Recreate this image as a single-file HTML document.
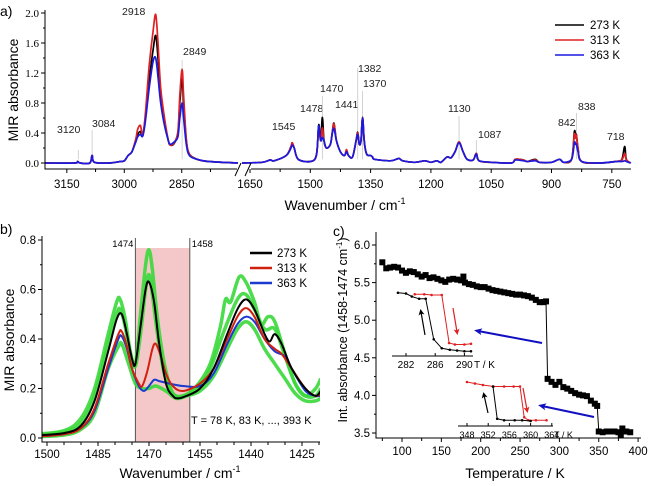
<!DOCTYPE html>
<html><head><meta charset="utf-8"><style>
html,body{margin:0;padding:0;background:#fff;}
svg{display:block;font-family:"Liberation Sans",Arial,sans-serif;}
</style></head><body>
<svg id="fig" width="650" height="486" viewBox="0 0 650 486" xmlns="http://www.w3.org/2000/svg">
<defs>
<marker id="ab" markerWidth="8" markerHeight="8" refX="4" refY="4" orient="auto" markerUnits="userSpaceOnUse"><path d="M8,4 L0,0.5 L2,4 L0,7.5 Z" fill="#1010c0"/></marker>
<marker id="ak" markerWidth="6" markerHeight="8" refX="3" refY="4" orient="auto" markerUnits="userSpaceOnUse"><path d="M6,4 L0,1 L1.5,4 L0,7 Z" fill="#000"/></marker>
<marker id="ar" markerWidth="6" markerHeight="8" refX="3" refY="4" orient="auto" markerUnits="userSpaceOnUse"><path d="M6,4 L0,1 L1.5,4 L0,7 Z" fill="#e02020"/></marker>
</defs>
<g id="pa"></g>
<g id="pb"></g>
<g id="pc"></g>
</svg>
<script>
// ---------- Panel a data ----------
const wnLeft = [3207,3130,3122,3115,3090,3084,3078,3040,3010,3000,2990,2980,2970,2965,2958,2952,2945,2935,2925,2918,2912,2905,2895,2885,2880,2870,2860,2855,2849,2845,2838,2830,2810,2780,2700];
const absLeft273 = [0,0,0.02,0,0,0.1,0.01,0,0.02,0.03,0.1,0.15,0.3,0.38,0.42,0.36,0.6,1.1,1.5,1.7,1.4,0.9,0.55,0.3,0.24,0.26,0.4,0.8,1.12,0.8,0.3,0.12,0.05,0.02,0];
const absLeft313 = [0,0,0.02,0,0,0.1,0.01,0,0.02,0.03,0.1,0.15,0.32,0.45,0.5,0.38,0.65,1.3,1.75,1.98,1.6,1.0,0.6,0.3,0.24,0.27,0.42,0.9,1.25,0.9,0.32,0.12,0.05,0.02,0];
const absLeft363 = [0,0,0.02,0,0,0.1,0.01,0,0.02,0.03,0.1,0.15,0.28,0.35,0.38,0.36,0.55,1.0,1.35,1.4,1.15,0.8,0.5,0.3,0.25,0.28,0.35,0.6,0.8,0.6,0.25,0.1,0.05,0.02,0];
const wnRight = [1670,1620,1600,1590,1560,1548,1545,1540,1530,1500,1485,1480,1478,1474,1470,1466,1460,1450,1445,1441,1435,1425,1415,1410,1405,1395,1386,1382,1378,1374,1370,1366,1360,1350,1345,1340,1300,1280,1270,1240,1215,1200,1185,1175,1160,1150,1140,1130,1120,1110,1095,1087,1080,1050,1000,990,970,960,940,930,900,880,870,850,843,840,838,834,825,780,740,725,718,714,703];
const absRight273 = [0,0.01,0.04,0.03,0.1,0.22,0.27,0.2,0.05,0.02,0.1,0.45,0.5,0.3,0.61,0.3,0.2,0.25,0.42,0.53,0.3,0.15,0.1,0.16,0.1,0.08,0.3,0.41,0.25,0.3,0.61,0.3,0.12,0.1,0.08,0.05,0.03,0.06,0.03,0.01,0.03,0.01,0.03,0.01,0.08,0.07,0.15,0.28,0.15,0.05,0.04,0.13,0.03,0.01,0,0.05,0.04,0.02,0.05,0.01,0.01,0.05,0.01,0.05,0.42,0.35,0.38,0.2,0.02,0,0.02,0.05,0.22,0.05,0];
const absRight313 = [0,0.01,0.04,0.03,0.1,0.22,0.27,0.2,0.05,0.02,0.1,0.43,0.46,0.3,0.47,0.3,0.2,0.25,0.42,0.52,0.3,0.15,0.1,0.18,0.1,0.08,0.3,0.4,0.25,0.3,0.6,0.3,0.12,0.1,0.08,0.05,0.03,0.06,0.03,0.01,0.03,0.01,0.03,0.01,0.08,0.07,0.15,0.28,0.15,0.05,0.04,0.13,0.03,0.01,0,0.05,0.04,0.02,0.04,0.01,0.01,0.05,0.01,0.05,0.38,0.33,0.37,0.2,0.02,0,0.02,0.04,0.13,0.04,0];
const absRight363 = [0,0.01,0.04,0.03,0.1,0.2,0.24,0.2,0.05,0.02,0.1,0.45,0.48,0.3,0.34,0.3,0.2,0.25,0.4,0.46,0.3,0.15,0.1,0.15,0.1,0.08,0.3,0.38,0.25,0.3,0.6,0.3,0.12,0.1,0.08,0.05,0.03,0.06,0.03,0.01,0.03,0.01,0.03,0.01,0.08,0.07,0.15,0.27,0.15,0.05,0.04,0.12,0.03,0.01,0,0.04,0.03,0.02,0.03,0.01,0.01,0.05,0.01,0.05,0.27,0.25,0.25,0.15,0.02,0,0.02,0.02,0.03,0.02,0];
const aYTicks = [0,0.4,0.8,1.2,1.6,2.0];
const aXTicksLeft = [3150,3000,2850];
const aXTicksRight = [1650,1500,1350,1200,1050,900,750];
const aPeakLabels = [[3120,"3120",57,133,150],[3084,"3084",92,127,130],[2918,"2918",122,15,null],[2849,"2849",183,55,60],[1545,"1545",272,130,null],[1478,"1478",300,112,null],[1470,"1470",320,92,96],[1441,"1441",335,108,null],[1382,"1382",358,72,68],[1370,"1370",363,87,91],[1130,"1130",448,112,116],[1087,"1087",478,138,140],[842,"842",558,126,null],[838,"838",578,110,113],[718,"718",607,140,null]];

// ---------- Panel b data ----------
const bWn = [1504,1495,1490,1486,1482,1479.5,1478,1476.5,1475,1474,1472.5,1471,1470,1468.5,1467,1465,1463,1461.5,1459,1455,1451,1447,1444,1441.5,1439,1436,1434.5,1433,1431,1428,1424,1421,1419.5];
const b273 = [0.01,0.02,0.05,0.15,0.35,0.48,0.5,0.42,0.32,0.3,0.45,0.6,0.63,0.55,0.38,0.22,0.17,0.16,0.17,0.2,0.28,0.42,0.52,0.56,0.52,0.42,0.39,0.42,0.38,0.28,0.2,0.17,0.19];
const bWn2 = [1504,1495,1490,1486,1482,1479,1478,1476.5,1475,1473,1472,1470.5,1469,1468,1466.5,1465,1463,1460,1455,1451,1447,1444,1441.5,1439,1436,1433,1431,1428,1424,1421,1419.5];
const b313 = [0.005,0.015,0.04,0.12,0.3,0.42,0.43,0.37,0.28,0.22,0.21,0.27,0.36,0.38,0.33,0.26,0.21,0.19,0.22,0.28,0.4,0.49,0.525,0.49,0.4,0.36,0.34,0.28,0.2,0.17,0.18];
const bWn3 = [1504,1495,1490,1486,1482,1479,1478,1476.5,1475,1473,1471.5,1470,1468.5,1467,1464,1460,1455,1451,1447,1444,1441.5,1439,1436,1433,1430,1428,1424,1421,1419.5];
const b363 = [0.005,0.015,0.04,0.11,0.28,0.4,0.41,0.36,0.28,0.21,0.19,0.21,0.235,0.23,0.22,0.21,0.21,0.26,0.38,0.46,0.49,0.47,0.4,0.35,0.33,0.28,0.19,0.17,0.17];
const bWnHi = [1504,1495,1490,1486,1482,1479.5,1478.5,1477,1475.5,1474,1472.5,1471,1470,1469,1467.5,1465.5,1463,1460,1456,1452,1449,1447.5,1446,1443.5,1441.5,1439,1437,1435,1433,1430,1427,1424,1421,1419.5];
const bGreenHi = [0.015,0.03,0.08,0.2,0.42,0.55,0.56,0.48,0.35,0.3,0.5,0.7,0.76,0.68,0.48,0.3,0.18,0.17,0.21,0.3,0.45,0.56,0.55,0.65,0.63,0.55,0.46,0.49,0.47,0.34,0.22,0.17,0.2,0.24];
const bWnMid = [1504,1495,1490,1486,1482,1479.5,1478.5,1477,1475.5,1474,1472.5,1471,1470,1469,1467.5,1465.5,1463,1460,1456,1452,1448,1444,1441.5,1439,1436,1433,1430,1427,1424,1421,1419.5];
const bGreenMid = [0.01,0.025,0.06,0.17,0.38,0.5,0.52,0.45,0.33,0.29,0.42,0.6,0.66,0.58,0.42,0.26,0.18,0.17,0.2,0.28,0.43,0.56,0.58,0.52,0.44,0.44,0.33,0.22,0.17,0.17,0.2];
const bWnLo = [1504,1495,1490,1486,1482,1479,1478,1476,1474,1472,1470,1468,1465,1462,1459,1455,1451,1447,1444,1441.5,1439,1436,1433,1430,1427,1424,1421,1419.5];
const bGreenLo = [0.005,0.012,0.035,0.1,0.28,0.37,0.38,0.3,0.22,0.2,0.2,0.21,0.19,0.16,0.17,0.19,0.25,0.36,0.44,0.47,0.44,0.36,0.3,0.24,0.18,0.15,0.15,0.16];
const bYTicks = [0,0.2,0.4,0.6,0.8];
const bXTicks = [1500,1485,1470,1455,1440,1425];
const bRegion = [1474,1458];

// ---------- Panel c data ----------
const cTemp = [75,80,85,90,95,100,105,110,115,120,125,130,135,140,145,150,155,160,165,170,175,178,180,185,190,195,200,205,210,215,220,225,230,235,240,245,250,255,260,265,270,275,280,283,285,290,295,300,305,310,315,320,325,330,335,340,345,348,350,355,360,365,370,375,378,380,385,390];
const cAbs = [5.77,5.69,5.70,5.71,5.70,5.66,5.63,5.65,5.64,5.61,5.58,5.60,5.56,5.57,5.55,5.53,5.51,5.54,5.55,5.54,5.53,5.58,5.50,5.48,5.47,5.45,5.44,5.44,5.42,5.40,5.39,5.38,5.37,5.36,5.35,5.34,5.34,5.33,5.32,5.30,5.27,5.24,5.24,5.25,4.22,4.18,4.14,4.18,4.11,4.09,4.06,4.03,4.01,4.00,3.99,3.93,3.89,3.86,3.52,3.51,3.52,3.52,3.52,3.51,3.48,3.56,3.52,3.51];
const cXTicks = [100,150,200,250,300,350,400];
const cYTicks = [3.5,4.0,4.5,5.0,5.5,6.0];
const in1BlackT = [280.9,282,282.8,283.8,284.7,285.8,286.9,288,289,290,290.9];
const in1BlackV = [5.29,5.28,5.24,5.21,5.21,4.67,4.55,4.53,4.52,4.51,4.51];
const in1RedT = [283.2,284.5,285.5,286.9,287.9,288.7,290,290.9];
const in1RedV = [5.27,5.27,5.26,5.26,4.62,4.60,4.60,4.61];
const in1Ticks = [282,286,290];
const in2BlackT = [352.9,353.7,355,357,358.4,360];
const in2BlackV = [4.11,3.68,3.66,3.66,3.66,3.65];
const in2RedT = [348,349.5,351,353,355,356.8,358,358.8,359.6,361,363];
const in2RedV = [4.17,4.15,4.13,4.11,4.11,4.11,4.11,3.70,3.66,3.66,3.66];
const in2Ticks = [348,352,356,360,364];

const NS = "http://www.w3.org/2000/svg";
function mk(parent, tag, attrs, text) {
  const e = document.createElementNS(NS, tag);
  for (const k in attrs) e.setAttribute(k, attrs[k]);
  if (text !== undefined) e.textContent = text;
  parent.appendChild(e);
  return e;
}
function smooth(pts) {
  let d = "M" + pts[0][0].toFixed(1) + "," + pts[0][1].toFixed(1);
  for (let i = 0; i < pts.length - 1; i++) {
    const p0 = pts[Math.max(0, i - 1)], p1 = pts[i], p2 = pts[i + 1], p3 = pts[Math.min(pts.length - 1, i + 2)];
    const c1x = p1[0] + (p2[0] - p0[0]) / 6, c1y = p1[1] + (p2[1] - p0[1]) / 6;
    const c2x = p2[0] - (p3[0] - p1[0]) / 6, c2y = p2[1] - (p3[1] - p1[1]) / 6;
    d += "C" + c1x.toFixed(1) + "," + c1y.toFixed(1) + " " + c2x.toFixed(1) + "," + c2y.toFixed(1) + " " + p2[0].toFixed(1) + "," + p2[1].toFixed(1);
  }
  return d;
}

// ===== Panel a =====
const pa = document.getElementById("pa");
const xL = v => Math.min(238, 45 + (3207 - v) * 0.383);
const xR = v => Math.max(242, 250 + (1650 - v) * 0.402);
const yA = v => 163 - v * 75;
let t;
t = mk(pa, "text", {x: 0, y: 16, "font-size": 14}, "a)");


t = mk(pa, "text", {x: 18, y: 90, "font-size": 14, "text-anchor": "middle", transform: "rotate(-90 18 90)"}, "MIR absorbance");


aPeakLabels.forEach(p => {
  const px = p[0] > 2000 ? xL(p[0]) : xR(p[0]);
  if (p[4] !== null) {
    const ln = mk(pa, "line", {x1: px, x2: px, y1: p[4], y2: yA(0.05), stroke: "#c8c8c8", "stroke-width": 0.8});
    
    
  }
  const tx = mk(pa, "text", {x: p[2], y: p[3], "font-size": 10.5, fill: "#222"}, p[1]);
  
  
});
const aSeries = [["#000", absLeft273, absRight273, "273"], ["#e02020", absLeft313, absRight313, "313"], ["#1a1ae0", absLeft363, absRight363, "363"]];
aSeries.forEach(s => {
  const p1 = mk(pa, "path", {d: smooth(wnLeft.map((w, i) => [xL(w), yA(s[1][i])])), fill: "none", stroke: s[0], "stroke-width": 1.7});
  
  
  const p2 = mk(pa, "path", {d: smooth(wnRight.map((w, i) => [xR(w), yA(s[2][i])])), fill: "none", stroke: s[0], "stroke-width": 1.7});
  
  
});
let ax = mk(pa, "path", {d: "M45,10 V169 H237 M251,169 H631", fill: "none", stroke: "#000", "stroke-width": 1});


let br = mk(pa, "path", {d: "M235,176 L241,163 M245,176 L251,163", stroke: "#000", "stroke-width": 1, fill: "none"});


aYTicks.forEach(v => {
  const y = yA(v);
  const tk = mk(pa, "line", {x1: 41, x2: 45, y1: y, y2: y, stroke: "#000"});
  
  
  const mn = mk(pa, "line", {x1: 43, x2: 45, y1: yA(v + 0.2), y2: yA(v + 0.2), stroke: "#000"});
  
  
  const lb = mk(pa, "text", {x: 39, y: y + 4, "font-size": 11, "text-anchor": "end", "font-family": "Liberation Serif, serif"}, v.toFixed(1));
  
  
});
aXTicksLeft.forEach(v => {
  const x = xL(v);
  const tk = mk(pa, "line", {x1: x, x2: x, y1: 169, y2: 173, stroke: "#000"});
  
  
  const mn = mk(pa, "line", {x1: xL(v - 75), x2: xL(v - 75), y1: 169, y2: 172, stroke: "#000"});
  
  
  const lb = mk(pa, "text", {x: x, y: 188, "font-size": 11.5, "text-anchor": "middle"}, String(v));
  
  
});
aXTicksRight.forEach(v => {
  const x = xR(v);
  const tk = mk(pa, "line", {x1: x, x2: x, y1: 169, y2: 173, stroke: "#000"});
  
  
  if (v > 750) {
    const mn = mk(pa, "line", {x1: xR(v - 75), x2: xR(v - 75), y1: 169, y2: 172, stroke: "#000"});
    
    
  }
  const lb = mk(pa, "text", {x: x, y: 188, "font-size": 11.5, "text-anchor": "middle"}, String(v));
  
  
});
t = mk(pa, "text", {x: 345, y: 210, "font-size": 14, "text-anchor": "middle"});


t.innerHTML = 'Wavenumber / cm<tspan dy="-6" font-size="9">-1</tspan>';
aSeries.forEach((s, i) => {
  const y = 25 + i * 15;
  const l = mk(pa, "line", {x1: 555, x2: 584, y1: y, y2: y, stroke: s[0], "stroke-width": 1.5});
  
  
  const lt = mk(pa, "text", {x: 590, y: y + 4, "font-size": 11.5}, s[3] + " K");
  
  
});

// ===== Panel b =====
const pb = document.getElementById("pb");
const xB = v => 149 + (1470 - v) * 3.4;
const yB = v => 438 - v * 247.5;
let clip = mk(pb, "clipPath", {id: "cb"});
mk(clip, "rect", {x: 42, y: 225, width: 278, height: 217});
const reg = mk(pb, "rect", {x: xB(bRegion[0]), y: 248, width: xB(bRegion[1]) - xB(bRegion[0]), height: 442 - 248, fill: "#f4c8c8"});


bRegion.forEach(v => {
  const l = mk(pb, "line", {x1: xB(v), x2: xB(v), y1: 238, y2: 442, stroke: "#555", "stroke-width": 1});
  
  
  const lb = mk(pb, "text", {x: v === bRegion[0] ? xB(v) - 2 : xB(v) + 2, y: 247, "font-size": 9.5, "text-anchor": v === bRegion[0] ? "end" : "start"}, String(v));
  
  
});
const gg = mk(pb, "g", {"clip-path": "url(#cb)"});
[[bWnHi, bGreenHi, "upper"], [bWnMid, bGreenMid, "middle"], [bWnLo, bGreenLo, "lower"]].forEach(s => {
  const g = mk(gg, "path", {d: smooth(s[0].map((w, i) => [xB(w), yB(s[1][i])])), fill: "none", stroke: "#3ad83a", "stroke-width": 3.5, opacity: 0.9});
  
  
});
const bSeries = [["#000", bWn, b273, "273"], ["#d02010", bWn2, b313, "313"], ["#1a3ad0", bWn3, b363, "363"]];
bSeries.slice().reverse().forEach(s => {
  const p = mk(gg, "path", {d: smooth(s[1].map((w, i) => [xB(w), yB(s[2][i])])), fill: "none", stroke: s[0], "stroke-width": 2});
  
  
});
ax = mk(pb, "path", {d: "M42,236 V442 H320", fill: "none", stroke: "#000", "stroke-width": 1});


bYTicks.forEach(v => {
  const y = yB(v);
  const tk = mk(pb, "line", {x1: 38, x2: 42, y1: y, y2: y, stroke: "#000"});
  
  
  if (v < 0.8) {
    const mn = mk(pb, "line", {x1: 40, x2: 42, y1: yB(v + 0.1), y2: yB(v + 0.1), stroke: "#000"});
    
    
  }
  const lb = mk(pb, "text", {x: 36, y: y + 4, "font-size": 11.5, "text-anchor": "end"}, v.toFixed(1));
  
  
});
bXTicks.forEach(v => {
  const x = xB(v);
  const tk = mk(pb, "line", {x1: x, x2: x, y1: 442, y2: 446, stroke: "#000"});
  
  
  [5, 10].forEach(o => {
    const mx = xB(v - o);
    if (mx < 320) {
      const mn = mk(pb, "line", {x1: mx, x2: mx, y1: 442, y2: 445, stroke: "#000"});
      
      
    }
  });
  const lb = mk(pb, "text", {x: x, y: 458, "font-size": 11.5, "text-anchor": "middle"}, String(v));
  
  
});
t = mk(pb, "text", {x: 0, y: 234, "font-size": 14}, "b)");


t = mk(pb, "text", {x: 14, y: 340, "font-size": 14, "text-anchor": "middle", transform: "rotate(-90 14 340)"}, "MIR absorbance");


t = mk(pb, "text", {x: 180, y: 478, "font-size": 14, "text-anchor": "middle"});


t.innerHTML = 'Wavenumber / cm<tspan dy="-6" font-size="9">-1</tspan>';
bSeries.forEach((s, i) => {
  const y = 253 + i * 15;
  const l = mk(pb, "line", {x1: 250, x2: 272, y1: y, y2: y, stroke: s[0], "stroke-width": 2.5});
  
  
  const lt = mk(pb, "text", {x: 277, y: y + 4, "font-size": 11.5}, s[3] + " K");
  
  
});
t = mk(pb, "text", {x: 191, y: 424, "font-size": 11}, "T = 78 K, 83 K, ..., 393 K");



// ===== Panel c =====
const pc = document.getElementById("pc");
const xC = v => 402 + (v - 100) * 0.787;
const yC = v => 245 + (6.0 - v) * 75.2;
const cl = mk(pc, "path", {d: "M" + cTemp.map((T, i) => xC(T).toFixed(1) + "," + yC(cAbs[i]).toFixed(1)).join(" L"), fill: "none", stroke: "#000", "stroke-width": 1});


cTemp.forEach((T, i) => {
  const m = mk(pc, "rect", {x: xC(T) - 3, y: yC(cAbs[i]) - 3, width: 6, height: 6, fill: "#000"});
  
  
});
ax = mk(pc, "path", {d: "M376,232 V438 H641", fill: "none", stroke: "#000", "stroke-width": 1});


cXTicks.forEach(v => {
  const x = xC(v);
  const tk = mk(pc, "line", {x1: x, x2: x, y1: 438, y2: 442, stroke: "#000"});
  
  
  const mx = xC(v - 25);
  const mn = mk(pc, "line", {x1: mx, x2: mx, y1: 438, y2: 441, stroke: "#000"});
  
  
  const lb = mk(pc, "text", {x: x, y: 455, "font-size": 11.5, "text-anchor": "middle"}, String(v));
  
  
});
cYTicks.forEach(v => {
  const y = yC(v);
  const tk = mk(pc, "line", {x1: 372, x2: 376, y1: y, y2: y, stroke: "#000"});
  
  
  if (v < 6) {
    const mn = mk(pc, "line", {x1: 374, x2: 376, y1: yC(v + 0.25), y2: yC(v + 0.25), stroke: "#000"});
    
    
  }
  const lb = mk(pc, "text", {x: 370, y: y + 4, "font-size": 11.5, "text-anchor": "end"}, v.toFixed(1));
  
  
});
t = mk(pc, "text", {x: 333, y: 236, "font-size": 14}, "c)");


t = mk(pc, "text", {x: 347, y: 330, "font-size": 12.5, "text-anchor": "middle", transform: "rotate(-90 347 330)"});


t.innerHTML = 'Int. absorbance (1458-1474 cm<tspan dy="-5" font-size="8">-1</tspan><tspan dy="5">)</tspan>';
t = mk(pc, "text", {x: 515, y: 478, "font-size": 14, "text-anchor": "middle"}, "Temperature / K");



function inset(name, xs, ys, axY, x0, x1, ticks, bT, bV, rT, rV, fs) {
  const g = mk(pc, "g", {});
  
  
  const a = mk(g, "line", {x1: x0, x2: x1, y1: axY, y2: axY, stroke: "#000"});
  
  
  ticks.forEach(v => {
    const tk = mk(g, "line", {x1: xs(v), x2: xs(v), y1: axY, y2: axY - 3, stroke: "#000"});
    
    
    const lb = mk(g, "text", {x: xs(v), y: axY + 12, "font-size": fs, "text-anchor": "middle"}, String(v));
    
    
  });
  const u = mk(g, "text", {x: x1 + 1, y: axY + 12, "font-size": fs}, "T / K");
  
  
  [[rT, rV, "#e02020", "red"], [bT, bV, "#000", "black"]].forEach(s => {
    const p = mk(g, "path", {d: "M" + s[0].map((T, i) => xs(T).toFixed(1) + "," + ys(s[1][i]).toFixed(1)).join(" L"), fill: "none", stroke: s[2], "stroke-width": 1});
    
    
    s[0].forEach((T, i) => {
      const c = mk(g, "circle", {cx: xs(T), cy: ys(s[1][i]), r: 1.3, fill: s[2]});
      
      
    });
  });
}
inset("inset-280k", T => 406 + (T - 282) * 7.3, v => 292 + (5.30 - v) * 75, 356, 392, 473, in1Ticks, in1BlackT, in1BlackV, in1RedT, in1RedV, 10);
inset("inset-350k", T => 467 + (T - 348) * 5.3, v => 382 + (4.17 - v) * 75, 426, 458, 553, in2Ticks, in2BlackT, in2BlackV, in2RedT, in2RedV, 9);
const arrows = [[542, 343, 478, 331, "ab", 2, "blue-arrow-1"], [594, 417, 542, 406, "ab", 2, "blue-arrow-2"], [425, 335, 421, 312, "ak", 1.2, "cooling-arrow-1"], [453, 308, 457, 332, "ar", 1.2, "heating-arrow-1"], [488, 413, 484, 395, "ak", 1.2, "cooling-arrow-2"], [523, 388, 527, 410, "ar", 1.2, "heating-arrow-2"]];
arrows.forEach(a => {
  const l = mk(pc, "line", {x1: a[0], y1: a[1], x2: a[2], y2: a[3], stroke: a[4] === "ab" ? "#1010c0" : (a[4] === "ak" ? "#000" : "#e02020"), "stroke-width": a[5], "marker-end": "url(#" + a[4] + ")"});
  
  
});
</script>
</body></html>
